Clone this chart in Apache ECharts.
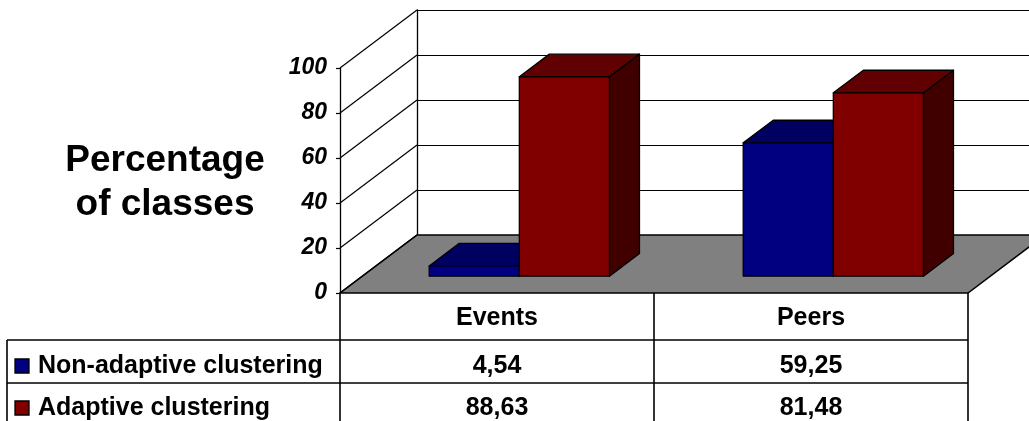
<!DOCTYPE html>
<html>
<head>
<meta charset="utf-8">
<title>Percentage of classes</title>
<script src="https://cdn.jsdelivr.net/npm/echarts@6/dist/echarts.min.js"></script>
</head>
<body style="margin:0">
<div id="main" style="width:1029px;height:421px;"></div>
<script type="text/javascript">
// data
var categories = ['Events', 'Peers'];
var seriesNames = ['Non-adaptive clustering', 'Adaptive clustering'];
var nonAdaptive = [4.54, 59.25];
var adaptive = [88.63, 81.48];
var yTicks = [0, 20, 40, 60, 80, 100];

var faceColors = [
    {front: '#000080', top: '#000060', side: '#000040'},
    {front: '#800000', top: '#600000', side: '#400000'}
];
var DX = 77, DY = -58;   // depth of floor / back wall in px
var FONT = '"Liberation Sans", Arial, sans-serif';

var myChart = echarts.init(document.getElementById('main'));

function floorItem(params, api) {
    var cs = params.coordSys;
    var y0 = api.coord([0, 0])[1];
    return {
        type: 'polygon',
        shape: {points: [[cs.x, y0], [cs.x + cs.width, y0], [cs.x + cs.width + DX, y0 + DY], [cs.x + DX, y0 + DY]]},
        style: {fill: '#808080', stroke: '#000', lineWidth: 1.5}
    };
}

function diagItem(params, api) {
    var p = api.coord([0, api.value(1)]);
    var x0 = params.coordSys.x;
    return {
        type: 'line',
        shape: {x1: x0, y1: p[1], x2: x0 + DX, y2: p[1] + DY},
        style: {stroke: '#000', lineWidth: 1.2}
    };
}

function barRenderer(s) {
    return function (params, api) {
        var i = api.value(0), v = api.value(1);
        var base = api.coord([i, 0]);
        var top = api.coord([i, v]);
        var bw = api.size([1, 0])[0] * 0.287;
        var ox = DX * 0.29, oy = DY * 0.29;
        var dx = DX * 0.39, dy = DY * 0.39;
        var x1 = base[0] - bw + s * bw + ox, x2 = x1 + bw;
        var yb = base[1] + oy, yt = top[1] + oy;
        var c = faceColors[s];
        function st(fill) {
            return {fill: fill, stroke: '#000', lineWidth: 1.3, lineJoin: 'round'};
        }
        return {
            type: 'group',
            children: [
                {type: 'polygon', shape: {points: [[x2, yb], [x2 + dx, yb + dy], [x2 + dx, yt + dy], [x2, yt]]}, style: st(c.side)},
                {type: 'polygon', shape: {points: [[x1, yt], [x2, yt], [x2 + dx, yt + dy], [x1 + dx, yt + dy]]}, style: st(c.top)},
                {type: 'rect', shape: {x: x1, y: yt, width: bw, height: yb - yt}, style: st(c.front)}
            ]
        };
    };
}

function toPairs(arr) {
    return arr.map(function (v, i) { return [i, v]; });
}

var option = {
    backgroundColor: '#fff',
    animation: false,
    grid: [
        {left: 340, top: 68, width: 628, height: 225},
        {left: 417, top: 10, width: 628, height: 225}
    ],
    xAxis: [
        {type: 'category', gridIndex: 0, data: categories, show: false},
        {type: 'category', gridIndex: 1, data: categories, show: false}
    ],
    yAxis: [
        {
            type: 'value', gridIndex: 0, min: 0, max: 100, interval: 20,
            axisLine: {show: true, lineStyle: {color: '#000', width: 1.3}},
            axisTick: {show: true, length: 4, lineStyle: {color: '#000', width: 1.2}},
            axisLabel: {color: '#000', fontFamily: FONT, fontSize: 23, fontWeight: 'bold', fontStyle: 'italic', margin: 13},
            splitLine: {show: false}
        },
        {
            type: 'value', gridIndex: 1, min: 0, max: 100, interval: 20,
            axisLine: {show: true, lineStyle: {color: '#000', width: 1.3}},
            axisTick: {show: false},
            axisLabel: {show: false},
            splitLine: {show: true, lineStyle: {color: '#000', width: 1.2}}
        }
    ],
    series: [
        {type: 'custom', name: 'floor', xAxisIndex: 0, yAxisIndex: 0, z: 2, data: [[0, 0]], renderItem: floorItem, silent: true},
        {type: 'custom', name: 'diag', xAxisIndex: 0, yAxisIndex: 0, z: 2, data: yTicks.map(function (v) { return [0, v]; }), renderItem: diagItem, silent: true},
        {type: 'custom', name: seriesNames[0], xAxisIndex: 0, yAxisIndex: 0, z: 3, data: toPairs(nonAdaptive), renderItem: barRenderer(0)},
        {type: 'custom', name: seriesNames[1], xAxisIndex: 0, yAxisIndex: 0, z: 3, data: toPairs(adaptive), renderItem: barRenderer(1)}
    ]
};
myChart.setOption(option);

// data table under the plot, aligned to the category bands
var cx = categories.map(function (c) { return myChart.convertToPixel({xAxisIndex: 0}, c); });
var band = cx[1] - cx[0];
var left = cx[0] - band / 2, right = cx[cx.length - 1] + band / 2;
var yBase = myChart.convertToPixel({yAxisIndex: 0}, 0);
var rowTop = [yBase, yBase + 47, yBase + 90, yBase + 133];
var rowText = [yBase + 25, yBase + 73, yBase + 115];
var tableLeft = 7;
var rows = [nonAdaptive, adaptive];
var lineStyle = {stroke: '#000', lineWidth: 1.6};
var textStyle = {fontFamily: FONT, fontSize: 25, fontWeight: 'bold', fill: '#000'};

var els = [];
function hline(x1, x2, y) { els.push({type: 'line', shape: {x1: x1, y1: y, x2: x2, y2: y}, style: lineStyle}); }
function vline(x, y1, y2) { els.push({type: 'line', shape: {x1: x, y1: y1, x2: x, y2: y2}, style: lineStyle}); }

hline(tableLeft, right, rowTop[1]);
hline(tableLeft, right, rowTop[2]);
hline(tableLeft, right, rowTop[3]);
vline(tableLeft, rowTop[1], rowTop[3]);
vline(left, rowTop[0], rowTop[3]);
for (var i = 0; i < categories.length; i++) {
    vline(cx[i] + band / 2, rowTop[0], rowTop[3]);
    els.push({type: 'text', x: cx[i], y: rowText[0],
        style: Object.assign({text: categories[i], align: 'center', verticalAlign: 'middle'}, textStyle)});
}
rows.forEach(function (vals, r) {
    els.push({type: 'rect', shape: {x: 15, y: rowText[r + 1] - 7, width: 14, height: 14},
        style: {fill: faceColors[r].front, stroke: '#000', lineWidth: 1.3}});
    els.push({type: 'text', x: 38, y: rowText[r + 1],
        style: Object.assign({text: seriesNames[r], align: 'left', verticalAlign: 'middle'}, textStyle)});
    vals.forEach(function (v, i) {
        els.push({type: 'text', x: cx[i], y: rowText[r + 1],
            style: Object.assign({text: v.toFixed(2).replace('.', ','), align: 'center', verticalAlign: 'middle'}, textStyle)});
    });
});

// axis title
els.push({type: 'text', x: 165, y: 183,
    style: {text: 'Percentage\nof classes', align: 'center', verticalAlign: 'middle', lineHeight: 44,
        fontFamily: FONT, fontSize: 37, fontWeight: 'bold', fill: '#000'}});

myChart.setOption({graphic: {elements: els}});
</script>
</body>
</html>
